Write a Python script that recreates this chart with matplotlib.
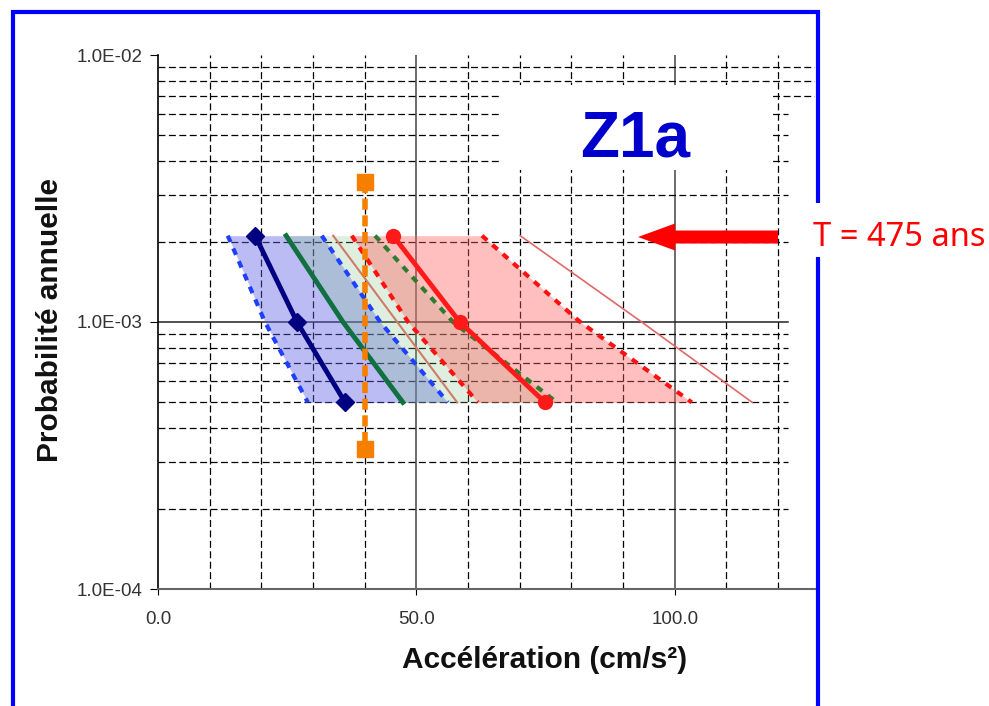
import matplotlib
matplotlib.use('Agg')
import matplotlib.pyplot as plt
from matplotlib.patches import Rectangle, FancyArrow
from matplotlib.transforms import IdentityTransform

plt.rcParams['font.family'] = ['Liberation Sans', 'DejaVu Sans']
plt.rcParams['lines.scale_dashes'] = False

# ====== données ======
prob = [1 / 475, 1 / 1000, 1 / 2000]

blue_med = [18.8, 26.9, 36.2]
blue_lo = [13.5, 20.7, 29.0]
blue_hi = [31.7, 43.0, 56.1]

green_med = [24.8, 35.8, 47.4]
green_hi = [42.0, 57.1, 77.2]

salmon_line = [33.9, 46.3, 57.9]

red_med = [45.5, 58.4, 74.9]
red_lo = [37.5, 48.4, 61.9]
red_hi = [62.7, 81.7, 103.3]
red_thin = [70.1, 93.6, 115.0]

orange_x = [40.0, 40.0]
orange_p = [3.35e-3, 3.35e-4]

x_ticks = [0, 50, 100]
x_ticklabels = ['0.0', '50.0', '100.0']
y_ticks = [1e-2, 1e-3, 1e-4]
y_ticklabels = ['1.0E-02', '1.0E-03', '1.0E-04']

# ====== figure ======
W, H = 989, 706
fig = plt.figure(figsize=(W / 100, H / 100), dpi=100)
ax = fig.add_axes([158 / W, 1 - 589 / H, 657 / W, 534 / H])
ax.set_yscale('log')
ax.set_xlim(0, 127.15)
ax.set_ylim(1e-4, 1e-2)

# grille à la main (style Excel)
dash = (0, (5, 2.5))
for xv in range(10, 121, 10):
    if xv % 50 == 0:
        ax.axvline(xv, color='#444444', lw=1.1, zorder=1)
    else:
        ax.axvline(xv, color='black', lw=0.9, ls=dash, zorder=1)
for dec in [1e-4, 1e-3]:
    for m in range(2, 10):
        yv = m * dec
        xmax = 1.0 if yv >= 7e-3 else 0.959
        ax.axhline(yv, xmax=xmax, color='black', lw=0.9, ls=dash, zorder=1)
ax.axhline(1e-3, xmax=0.959, color='#222222', lw=1.1, zorder=1)

# cadre blanc derrière Z1a
ax.add_patch(Rectangle((0.5205, 0.7846), 0.411, 0.159, transform=ax.transAxes,
                       facecolor='white', edgecolor='none', zorder=1.5))
ax.text(0.726, 0.842, 'Z1a', transform=ax.transAxes, ha='center', va='center',
        fontsize=46, fontweight='bold', color='#0000cc', zorder=2)

# zones
ax.fill_betweenx(prob, blue_lo, blue_hi, color='#6060e8', alpha=0.42, lw=0, zorder=2)
ax.fill_betweenx(prob, green_med, green_hi, color='#80c080', alpha=0.25, lw=0, zorder=2.1)
ax.fill_betweenx(prob, red_lo, red_hi, color='#ff6060', alpha=0.4, lw=0, zorder=2.2)

# courbes
ax.plot(red_thin, prob, color='#e06868', lw=1.2, zorder=3)
ax.plot(salmon_line, prob, color='#d07a68', lw=1.5, zorder=3)
ax.plot(blue_lo, prob, color='#1f3fff', lw=3, ls=(0, (5, 5)), zorder=3)
ax.plot(blue_hi, prob, color='#1f3fff', lw=3, ls=(0, (5, 5)), zorder=3)
ax.plot(red_lo, prob, color='#ff1010', lw=3, ls=(0, (5, 5)), zorder=3)
ax.plot(red_hi, prob, color='#ff1010', lw=3, ls=(0, (5, 5)), zorder=3)
ax.plot(green_hi, prob, color='#2e7d2e', lw=3, ls=(0, (5, 5)), zorder=3)

ax.plot(blue_med, prob, color='#000080', lw=3.5, marker='D', ms=9, zorder=4)
ax.plot(green_med, prob, color='#107040', lw=3.5, zorder=4)
ax.plot(red_med, prob, color='#ff1a1a', lw=3.5, marker='o', ms=10, zorder=4)
ax.plot(orange_x, orange_p, color='#f77f00', lw=4, ls=(0, (8, 4)),
        marker='s', ms=12, zorder=5)

# axes
for s in ['top', 'right']:
    ax.spines[s].set_visible(False)
ax.spines['left'].set_color('black')
ax.spines['bottom'].set_color('#666666')
ax.spines['left'].set_linewidth(1.2)
ax.spines['bottom'].set_linewidth(1.5)
ax.set_xticks(x_ticks)
ax.set_xticklabels(x_ticklabels)
ax.set_yticks(y_ticks)
ax.set_yticklabels(y_ticklabels)
ax.minorticks_off()
ax.tick_params(axis='y', length=6, pad=5, labelsize=13.5, labelcolor='#333333')
ax.tick_params(axis='x', length=4, pad=12, labelsize=13.5, labelcolor='#333333')

fig.text(545 / W, 1 - 660 / H, 'Accélération (cm/s²)', ha='center', va='center',
         fontsize=21.5, fontweight='bold', color='#111111')
fig.text(50 / W, 1 - 320 / H, 'Probabilité annuelle', ha='center', va='center',
         rotation=90, fontsize=21.5, fontweight='bold', color='#111111')

# cadre bleu, flèche et texte T = 475 ans
ident = IdentityTransform()
fig.add_artist(Rectangle((13, -20), 805, H - 12 + 20, transform=ident,
                         facecolor='none', edgecolor='#0000ff', lw=3, zorder=10))
fig.add_artist(Rectangle((808, H - 257), 20, 54, transform=ident,
                         facecolor='white', edgecolor='none', zorder=11))
fig.add_artist(FancyArrow(778, H - 237, -140, 0, width=13, head_width=27,
                          head_length=37, length_includes_head=True,
                          transform=ident, color='#ff0000', lw=0, zorder=12))
fig.text(813 / W, 1 - 237 / H, 'T = 475 ans', ha='left', va='center',
         fontsize=23.5, color='#ff0000', family=['Noto Sans', 'DejaVu Sans'], zorder=12)

out = 'out.png'
fig.savefig(out, dpi=100)
plt.close(fig)
